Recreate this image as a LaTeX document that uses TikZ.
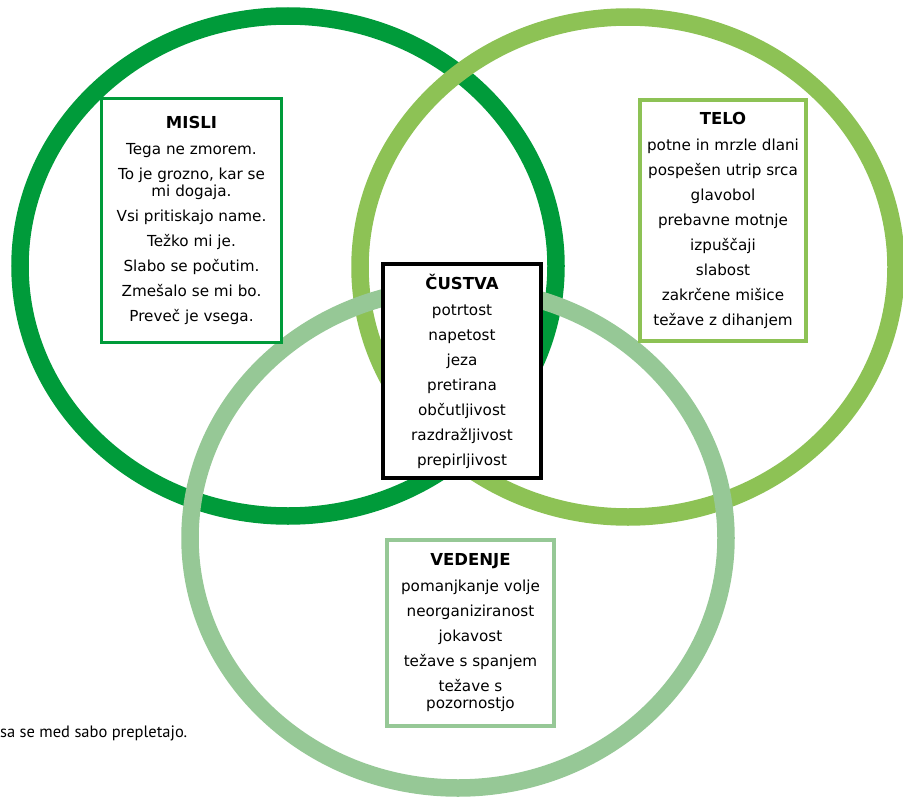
\documentclass[tikz,border=0pt]{standalone}
\usepackage{fontspec}
\setmainfont{DejaVu Sans}
\newfontfamily\notefont{PT Sans}
\usepackage{tikz}
\usetikzlibrary{shapes.geometric,positioning}
\definecolor{misligreen}{RGB}{0,155,58}
\definecolor{telogreen}{RGB}{141,194,85}
\definecolor{vedenjegreen}{RGB}{150,200,150}
\newcommand{\boxhead}[1]{{\fontsize{16.5}{17}\selectfont\bfseries #1}}

\begin{document}
\begin{tikzpicture}[x=1pt, y=-1pt,
  ring/.style={ellipse, draw, line width=17.5pt, minimum width=536pt, minimum height=500pt, inner sep=0pt},
  listbox/.style={rectangle, draw, fill=white, line width=4pt, align=center, inner sep=0pt, font=\fontsize{15.2}{17}\selectfont}
]
  \useasboundingbox (0,0) rectangle (903,800);

  % -- the three rings --
  \node[ring, draw=misligreen]   (mislir)   at (288,266) {};
  \node[ring, draw=telogreen]    (telor)    at (628,267) {};
  \node[ring, draw=vedenjegreen] (vedenjer) at (458,538) {};

  % -- boxes with lists --
  \node[listbox, draw=misligreen, line width=3pt, minimum width=180pt, minimum height=244pt] (misli) at (191.5,220.5)
    {\boxhead{MISLI}\\[9pt] Tega ne zmorem.\\[8pt] To je grozno, kar se\\ mi dogaja.\\[8pt] Vsi pritiskajo name.\\[8pt]
     Težko mi je.\\[8pt] Slabo se počutim.\\[8pt] Zmešalo se mi bo.\\[8pt] Preveč je vsega.};

  \node[listbox, draw=telogreen, minimum width=166pt, minimum height=241pt] (telo) at (723,220.5)
    {\boxhead{TELO}\\[9pt] potne in mrzle dlani\\[8pt] pospešen utrip srca\\[8pt] glavobol\\[8pt] prebavne motnje\\[8pt]
     izpuščaji\\[8pt] slabost\\[8pt] zakrčene mišice\\[8pt] težave z dihanjem};

  \node[listbox, draw=black, minimum width=158pt, minimum height=214pt] (custva) at (462,371)
    {\boxhead{ČUSTVA}\\[9pt] potrtost\\[8pt] napetost\\[8pt] jeza\\[8pt] pretirana\\[8pt] občutljivost\\[8pt]
     razdražljivost\\[8pt] prepirljivost};

  \node[listbox, draw=vedenjegreen, minimum width=167pt, minimum height=186pt] (vedenje) at (470.5,633)
    {\boxhead{VEDENJE}\\[9pt] pomanjkanje volje\\[8pt] neorganiziranost\\[8pt] jokavost\\[8pt] težave s spanjem\\[8pt]
     težave s\\ pozornostjo};

  % -- caption at the left --
  \node[anchor=base west, inner sep=0pt, font=\notefont\fontsize{16.5}{18}\selectfont] (note) at (0,737) {sa se med sabo prepletajo.};
\end{tikzpicture}
\end{document}
